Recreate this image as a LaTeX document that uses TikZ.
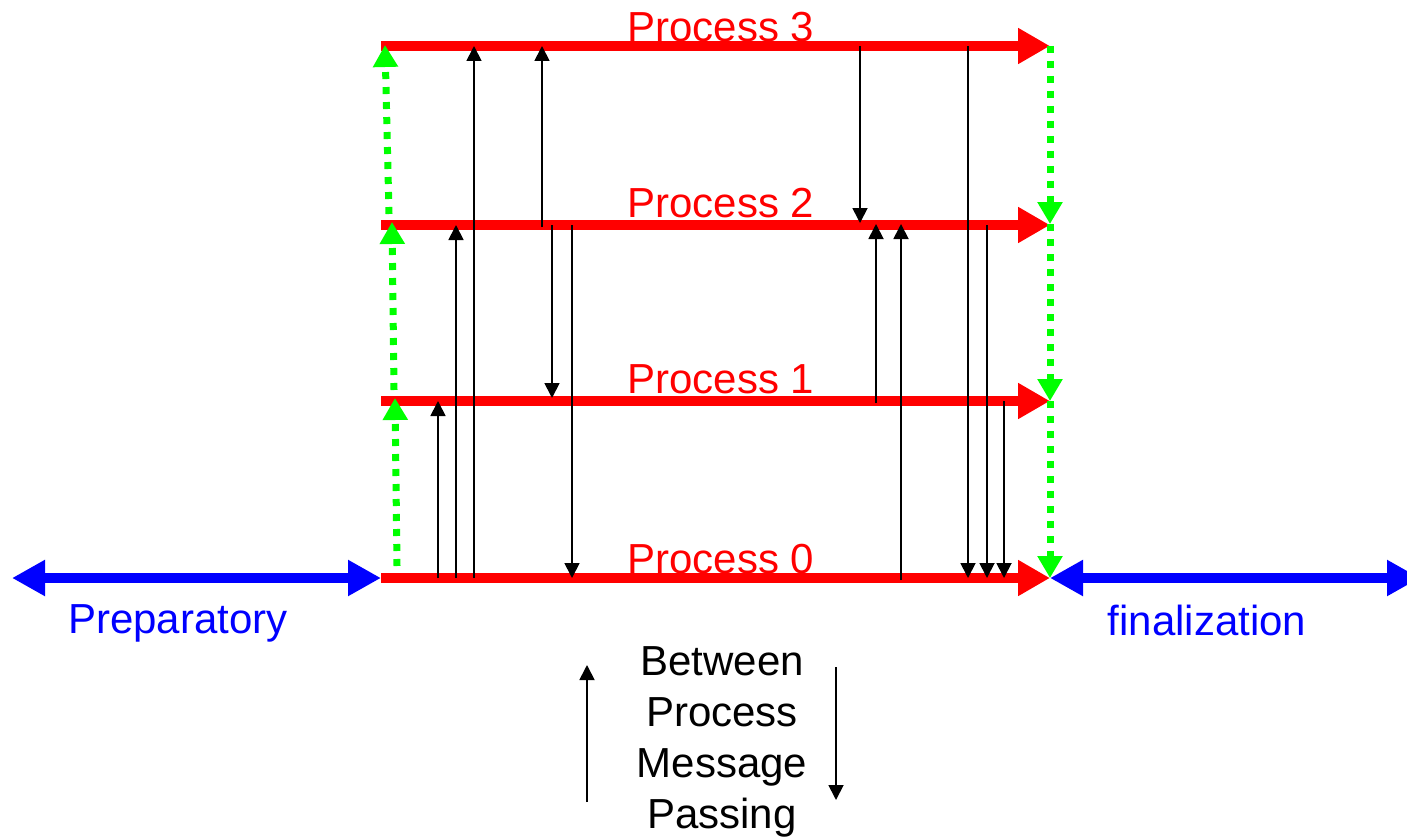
\documentclass[tikz,border=0pt]{standalone}
\usepackage{fontspec}
\setmainfont{Liberation Sans}
\usetikzlibrary{arrows.meta}
\definecolor{pred}{RGB}{255,0,0}
\definecolor{pgreen}{RGB}{0,255,0}
\definecolor{pblue}{RGB}{0,0,255}
\tikzset{
  procline/.style={draw=pred, line width=10pt, -{Triangle[length=32pt,width=34pt]}},
  phase/.style={draw=pblue, line width=10pt, {Triangle[length=33pt,width=34pt]}-{Triangle[length=33pt,width=34pt]}},
  sync/.style={draw=pgreen, line width=7pt, dash pattern=on 7pt off 8pt, -{Triangle[length=22pt,width=24pt]}},
  msg/.style={draw=black, line width=1.8pt, -{Triangle[length=15pt,width=15pt]}},
  plabel/.style={text=pred, font=\fontsize{42}{50}\selectfont, anchor=base, inner sep=0pt},
  blabel/.style={text=pblue, font=\fontsize{42}{50}\selectfont, anchor=base, inner sep=0pt},
  legend/.style={text=black, font=\fontsize{42}{51}\selectfont, align=center, inner sep=0pt}
}
\begin{document}
\begin{tikzpicture}[x=1pt,y=-1pt]
\useasboundingbox (0,0) rectangle (1407,837);
% process lines
\foreach \n/\y in {0/578,1/401,2/225,3/46}{
  \coordinate (s\n) at (381,\y);
  \coordinate (e\n) at (1050,\y);
}
\draw[procline] (s3) -- (e3);
\draw[procline] (s2) -- (e2);
\draw[procline] (s1) -- (e1);
\draw[procline] (s0) -- (e0);
\node[plabel] (l3) at (721,42) {Process 3};
\node[plabel] (l2) at (721,217) {Process 2};
\node[plabel] (l1) at (721,393) {Process 1};
\node[plabel] (l0) at (721,573) {Process 0};
% phases
\coordinate (pl) at (12,578);
\coordinate (pr) at (1420,578);
\draw[phase] (pl) -- (s0);
\draw[phase] (e0) -- (pr);
\node[blabel] (prep) at (178,633) {Preparatory};
\node[blabel] (fin) at (1207,635) {finalization};
% green sync left
\coordinate (g0) at (397,566);
\coordinate (g1) at (395,398);
\coordinate (g1b) at (394,390);
\coordinate (g2) at (392,222);
\coordinate (g2b) at (389,214);
\coordinate (g3) at (385,45);
\draw[sync] (g0) -- (g1);
\draw[sync] (g1b) -- (g2);
\draw[sync] (g2b) -- (g3);
% green sync right
\coordinate (h3) at (1050,46);
\coordinate (h2) at (1050,224);
\coordinate (h1) at (1050,401);
\coordinate (h0) at (1050,578);
\draw[sync] (h3) -- (h2);
\draw[sync] (h2) -- (h1);
\draw[sync] (h1) -- (h0);
% messages
\foreach \x/\a/\b in {438/578/401, 456/578/225, 474/578/46, 542/227/46, 552/225/398, 572/225/578, 860/46/223, 876/403/224, 901/580/224, 968/46/578, 987/225/578, 1004/401/578}{
  \coordinate (ma\x) at (\x,\a);
  \coordinate (mb\x) at (\x,\b);
  \draw[msg] (ma\x) -- (mb\x);
}
% legend
\coordinate (up0) at (587,802);
\coordinate (up1) at (587,665);
\coordinate (dn0) at (836,667);
\coordinate (dn1) at (836,800);
\draw[msg] (up0) -- (up1);
\draw[msg] (dn0) -- (dn1);
\node[legend] (leg) at (722,742) {Between\\Process\\Message\\Passing};
\end{tikzpicture}
\end{document}
